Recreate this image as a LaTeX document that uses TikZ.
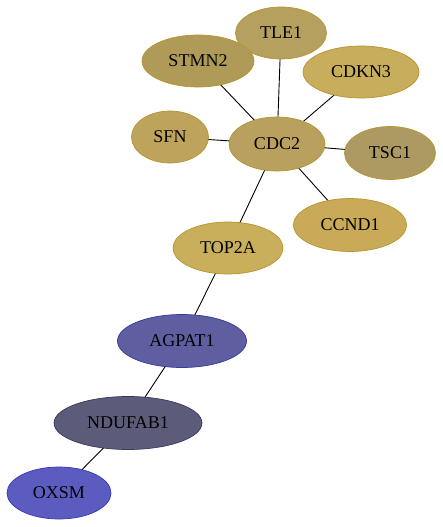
\documentclass[tikz,border=0pt]{standalone}
\usepackage{fontspec}
\setmainfont{Liberation Serif}
\usetikzlibrary{shapes.geometric}
\definecolor{cTLE}{HTML}{B5A060}
\definecolor{cSTMN}{HTML}{B09A58}
\definecolor{cCDKN}{HTML}{C8AD5C}
\definecolor{cSFN}{HTML}{BDA35C}
\definecolor{cCDC}{HTML}{B9A05E}
\definecolor{cTSC}{HTML}{AD9A62}
\definecolor{cCCND}{HTML}{C8AA58}
\definecolor{cTOP}{HTML}{C9AE5C}
\definecolor{cAGP}{HTML}{5E5EA0}
\definecolor{cNDU}{HTML}{5C5C7A}
\definecolor{cOXS}{HTML}{5C5CC0}
\definecolor{bGold}{HTML}{B4962E}
\definecolor{bAGP}{HTML}{3838A0}
\definecolor{bNDU}{HTML}{38385E}
\definecolor{bOXS}{HTML}{3838B4}
\tikzset{
  gene/.style 2 args={ellipse, draw=#2, fill=#1, line width=0.7pt, inner sep=0pt, font=\fontsize{18}{20}\selectfont, text=black},
  edge/.style={draw=black, line width=0.9pt},
  x=1pt, y=-1pt
}
\begin{document}
\begin{tikzpicture}
\useasboundingbox (0,0) rectangle (443,527);
\fill[white] (0,0) rectangle (443,527);
\coordinate (pTLE) at (281,33);
\coordinate (pSTMN) at (198,61);
\coordinate (pCDKN) at (361,72);
\coordinate (pSFN) at (170,137);
\coordinate (pCDC) at (277,144);
\coordinate (pTSC) at (390,153);
\coordinate (pCCND) at (350,225);
\coordinate (pTOP) at (228,248);
\coordinate (pAGP) at (182,341);
\coordinate (pNDU) at (128,423);
\coordinate (pOXS) at (59,493);
\foreach \a/\b in {CDC/TLE,CDC/STMN,CDC/CDKN,CDC/SFN,CDC/TSC,CDC/CCND,CDC/TOP,TOP/AGP,AGP/NDU,NDU/OXS}
  \draw[edge] (p\a) -- (p\b);
\node[gene={cTLE}{bGold}, minimum width=91pt, minimum height=52pt] (TLE1) at (pTLE) {TLE1};
\node[gene={cSTMN}{bGold}, minimum width=112pt, minimum height=52pt] (STMN2) at (pSTMN) {STMN2};
\node[gene={cCDKN}{bGold}, minimum width=116pt, minimum height=52pt] (CDKN3) at (pCDKN) {CDKN3};
\node[gene={cSFN}{bGold}, minimum width=77pt, minimum height=52pt] (SFN) at (pSFN) {SFN};
\node[gene={cCDC}{bGold}, minimum width=96pt, minimum height=54pt] (CDC2) at (pCDC) {CDC2};
\node[gene={cTSC}{bGold}, minimum width=91pt, minimum height=53pt] (TSC1) at (pTSC) {TSC1};
\node[gene={cCCND}{bGold}, minimum width=113pt, minimum height=53pt] (CCND1) at (pCCND) {CCND1};
\node[gene={cTOP}{bGold}, minimum width=110pt, minimum height=52pt] (TOP2A) at (pTOP) {TOP2A};
\node[gene={cAGP}{bAGP}, minimum width=129pt, minimum height=53pt] (AGPAT1) at (pAGP) {AGPAT1};
\node[gene={cNDU}{bNDU}, minimum width=148pt, minimum height=53pt] (NDUFAB1) at (pNDU) {NDUFAB1};
\node[gene={cOXS}{bOXS}, minimum width=104pt, minimum height=52pt] (OXSM) at (pOXS) {OXSM};
\end{tikzpicture}
\end{document}
